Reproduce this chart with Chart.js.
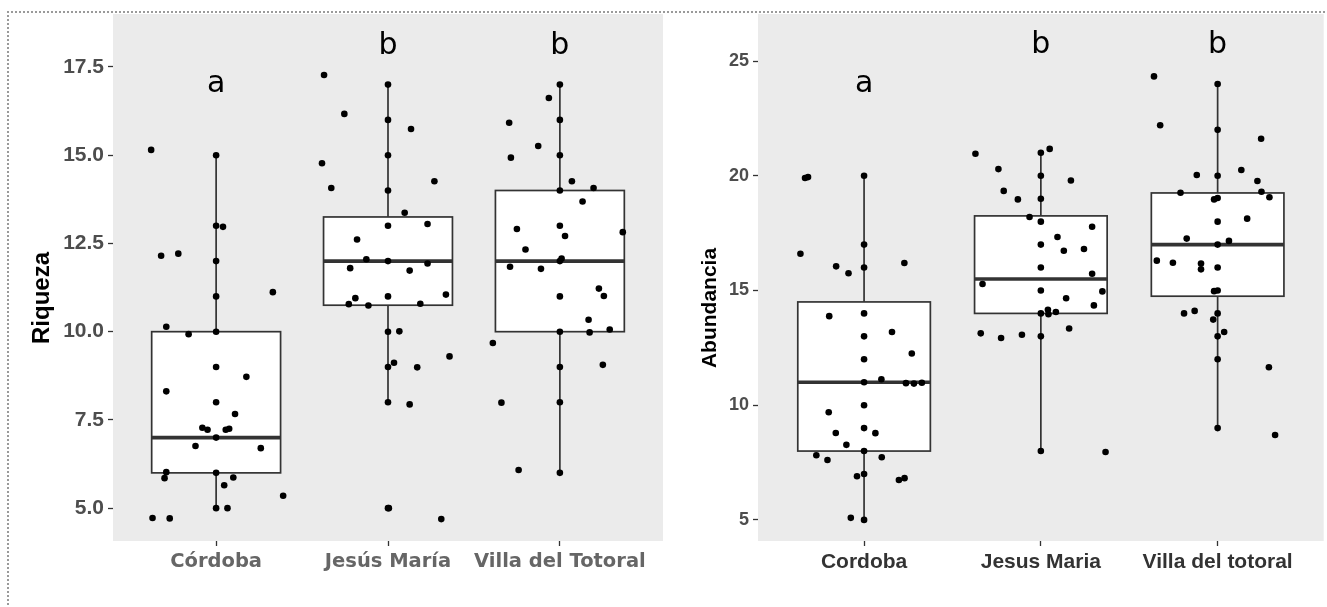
<!DOCTYPE html>
<html>
<head>
<meta charset="utf-8">
<script src="https://cdn.jsdelivr.net/npm/chart.js@4"></script>
<style>
  body { margin: 0; background: #fff; width: 1327px; height: 607px; overflow: hidden; position: relative; }
  #frame { position: absolute; left: 7px; top: 11px; width: 1400px; height: 700px;
           border-top: 2px dotted #9a9a9a; border-left: 2px dotted #9a9a9a; }
  .panel { position: absolute; top: 0; height: 607px; }
</style>
</head>
<body>
<div id="frame"></div>
<div class="panel" style="left:0;width:670px"><canvas id="riquezaChart" width="670" height="607"></canvas></div>
<div class="panel" style="left:670px;width:657px"><canvas id="abundanciaChart" width="657" height="607"></canvas></div>

<script>
// ---- Riqueza (left panel) ----
const sitiosRiqueza = ['Córdoba', 'Jesús María', 'Villa del Totoral'];
const letrasGrupo = ['a', 'b', 'b'];
const riquezaTicks = [5, 7.5, 10, 12.5, 15, 17.5];
const riquezaMin = [5, 8, 6];
const riquezaQ1 = [6, 10.75, 10];
const riquezaMediana = [7, 12, 12];
const riquezaQ3 = [10, 13.25, 14];
const riquezaMax = [15, 17, 17];
const riquezaLetraY = [17.0, 18.1, 18.1];

const riqCordobaY = [15.15, 15, 13, 12.97, 12.15, 12.21, 12, 11, 11.12, 10.14, 9.93, 10, 9, 8.72, 8.31, 8, 7.67,
  7.28, 7.22, 7.22, 7.25, 7, 6.76, 6.7, 6.02, 6, 5.85, 5.87, 5.65, 5.35, 5, 5, 4.72, 4.71];
const riqCordobaDx = [-0.378, 0, 0, 0.04, -0.32, -0.22, 0, 0, 0.33, -0.29, -0.16, 0, 0, 0.176, -0.29, 0, 0.11,
  -0.08, -0.05, 0.056, 0.076, 0, -0.12, 0.26, -0.29, 0, -0.3, 0.1, 0.047, 0.39, 0, 0.066, -0.37, -0.27];
const riqJesusY = [17.27, 17, 16.17, 16, 15.74, 14.77, 15, 14.07, 14, 14.26, 13.37, 13, 13.05, 12.61, 12.05, 12,
  11.8, 11.73, 11.93, 10.95, 11, 11.05, 10.78, 10.74, 10.79, 10, 10.01, 9.3, 9.12, 9, 8.99, 8, 7.94, 5, 5, 4.69];
const riqJesusDx = [-0.372, 0, -0.254, 0, 0.134, -0.384, 0, -0.33, 0, 0.27, 0.097, 0, 0.23, -0.18, -0.126, 0,
  -0.22, 0.126, 0.23, -0.19, 0, 0.337, -0.228, -0.114, 0.188, 0, 0.066, 0.358, 0.035, 0, 0.17, 0, 0.126, 0, 0.005, 0.31];
const riqVillaY = [17, 16.62, 15.92, 16, 15.26, 14.93, 15, 14.26, 14.07, 14, 13.69, 12.91, 13, 12.71, 12.82, 12.33,
  12.07, 12, 11.84, 11.78, 11.22, 11.01, 11, 10.34, 9.98, 10.06, 10, 9.68, 9.06, 9, 7.99, 8, 6.08, 6];
const riqVillaDx = [0, -0.064, -0.295, 0, -0.126, -0.285, 0, 0.07, 0.196, 0, 0.132, -0.25, 0, 0.03, 0.366, -0.2,
  0.01, 0, -0.29, -0.11, 0.227, 0.256, 0, 0.167, 0.173, 0.29, 0, -0.39, 0.25, 0, -0.34, 0, -0.24, 0];

// ---- Abundancia (right panel) ----
const sitiosAbundancia = ['Cordoba', 'Jesus Maria', 'Villa del totoral'];
const abundanciaTicks = [5, 10, 15, 20, 25];
const abundanciaMin = [5, 8, 9];
const abundanciaQ1 = [8, 14, 14.75];
const abundanciaMediana = [11, 15.5, 17];
const abundanciaQ3 = [14.5, 18.25, 19.25];
const abundanciaMax = [20, 21, 24];
const abundanciaLetraY = [24.0, 25.7, 25.7];

const abuCordobaY = [19.9, 19.94, 20, 16.6, 17, 16.2, 16.05, 15.75, 16, 13.88, 14, 13.19, 13, 12.25, 12, 11.13, 11,
  10.96, 10.94, 10.98, 10, 9.69, 9, 8.79, 8.78, 8.27, 8, 7.82, 7.61, 7.73, 6.9, 7, 6.74, 6.82, 5.09, 5];
const abuCordobaDx = [-0.334, -0.317, 0, -0.36, 0, 0.228, -0.158, -0.088, 0, -0.197, 0, 0.158, 0, 0.27, 0, 0.098, 0,
  0.237, 0.282, 0.327, 0, -0.2, 0, -0.16, 0.064, -0.1, 0, -0.27, -0.207, 0.1, -0.04, 0, 0.197, 0.229, -0.075, 0];
const abuJesusY = [20.96, 21, 21.17, 20.29, 20, 19.79, 19.34, 18.97, 19, 18.2, 18, 17.78, 17.33, 17, 16.73, 16.81,
  16, 15.73, 15.28, 15, 14.96, 14.66, 14.35, 14.16, 14.06, 14, 13.96, 13.13, 12.93, 13.07, 13, 13.34, 8, 7.96];
const abuJesusDx = [-0.37, 0, 0.05, -0.24, 0, 0.17, -0.21, -0.13, 0, -0.064, 0, 0.29, 0.094, 0, 0.13, 0.244,
  0, 0.29, -0.33, 0, 0.348, 0.143, 0.3, 0.04, 0.085, 0, 0.043, -0.34, -0.225, -0.107, 0, 0.16, 0, 0.366];
const abuVillaY = [24.33, 24, 22.2, 22, 21.61, 20.03, 20, 20.25, 19.77, 19.3, 19.26, 19.06, 18.97, 19.03, 18, 18.13,
  17.26, 17.16, 17, 16.3, 16.21, 16.17, 15.92, 16, 14.97, 15, 14, 14.11, 14, 13.73, 13.19, 13, 12, 11.65, 9, 8.7];
const abuVillaDx = [-0.36, 0, -0.325, 0, 0.246, -0.118, 0, 0.134, 0.225, 0.248, -0.21, 0.293, -0.02, 0, 0, 0.167,
  -0.175, 0.064, 0, -0.344, -0.253, -0.094, -0.094, 0, -0.02, 0, -0.19, -0.13, 0, -0.025, 0.037, 0, 0, 0.29, 0, 0.325];

// Box plot, panel background, group letters and the rotated axis title
const boxPlotPlugin = {
  id: 'boxPlot',
  beforeDatasetsDraw(chart, args, opts) {
    const {ctx, chartArea, scales: {x, y}} = chart;
    ctx.save();
    ctx.fillStyle = '#ebebeb';
    ctx.fillRect(chartArea.left, chartArea.top, chartArea.right - chartArea.left, chartArea.bottom - chartArea.top);
    ctx.strokeStyle = '#333333';
    opts.q1.forEach((q1, i) => {
      const cx = x.getPixelForValue(i);
      const left = x.getPixelForValue(i - 0.375);
      const right = x.getPixelForValue(i + 0.375);
      const yMin = y.getPixelForValue(opts.min[i]);
      const yQ1 = y.getPixelForValue(q1);
      const yMed = y.getPixelForValue(opts.median[i]);
      const yQ3 = y.getPixelForValue(opts.q3[i]);
      const yMax = y.getPixelForValue(opts.max[i]);
      ctx.lineWidth = 1.7;
      ctx.beginPath();
      ctx.moveTo(cx, yMin); ctx.lineTo(cx, yQ1);
      ctx.moveTo(cx, yQ3); ctx.lineTo(cx, yMax);
      ctx.stroke();
      ctx.fillStyle = '#ffffff';
      ctx.fillRect(left, yQ3, right - left, yQ1 - yQ3);
      ctx.strokeRect(left, yQ3, right - left, yQ1 - yQ3);
      ctx.lineWidth = 3.6;
      ctx.beginPath();
      ctx.moveTo(left, yMed); ctx.lineTo(right, yMed);
      ctx.stroke();
    });
    ctx.restore();
  },
  afterDatasetsDraw(chart, args, opts) {
    const {ctx, scales: {x, y}} = chart;
    ctx.save();
    ctx.fillStyle = '#000';
    ctx.font = '30px "DejaVu Sans"';
    ctx.textAlign = 'center';
    ctx.textBaseline = 'middle';
    opts.letters.forEach((l, i) => ctx.fillText(l, x.getPixelForValue(i), y.getPixelForValue(opts.letterY[i])));
    ctx.translate(opts.titleX, opts.titleY);
    ctx.rotate(-Math.PI / 2);
    ctx.font = opts.titleFont;
    ctx.fillText(opts.title, 0, 0);
    ctx.restore();
  }
};

function jitterPoints(ys, dxs, group) {
  return ys.map((v, k) => ({x: group + dxs[k], y: v}));
}

function makeChart(id, cfg) {
  const ctx = document.getElementById(id).getContext('2d');
  return new Chart(ctx, {
    type: 'scatter',
    data: {
      datasets: [{
        data: cfg.points,
        pointRadius: 3.3,
        pointBackgroundColor: '#000',
        pointBorderWidth: 0,
        pointHoverRadius: 3.3
      }]
    },
    plugins: [boxPlotPlugin],
    options: {
      responsive: false,
      animation: false,
      layout: { padding: cfg.padding },
      plugins: {
        legend: { display: false },
        tooltip: { enabled: false },
        boxPlot: cfg.box
      },
      scales: {
        x: {
          type: 'linear',
          min: -0.6,
          max: 2.6,
          afterBuildTicks: (scale) => { scale.ticks = [0, 1, 2].map(v => ({value: v})); },
          afterFit: (scale) => {
            scale.height = cfg.xHeight;
            scale.paddingLeft = 0;
            scale.paddingRight = 0;
          },
          grid: { drawOnChartArea: false, drawTicks: true, tickLength: 5, tickColor: '#333', tickWidth: 1.3 },
          border: { display: false },
          ticks: {
            autoSkip: false,
            maxRotation: 0,
            padding: 4,
            color: cfg.xColor,
            font: cfg.xFont,
            callback: (v) => cfg.labels[v]
          }
        },
        y: {
          type: 'linear',
          min: cfg.yMin,
          max: cfg.yMax,
          afterBuildTicks: (scale) => { scale.ticks = cfg.ticks.map(v => ({value: v})); },
          afterFit: (scale) => {
            scale.width = cfg.yWidth;
            scale.paddingTop = 0;
            scale.paddingBottom = 0;
          },
          grid: { drawOnChartArea: false, drawTicks: true, tickLength: 5, tickColor: '#333', tickWidth: 1.3 },
          border: { display: false },
          ticks: {
            padding: 4,
            color: cfg.yColor,
            font: cfg.yFont,
            callback: cfg.tickFormat
          }
        }
      }
    }
  });
}

window.addEventListener('load', () => {
  makeChart('riquezaChart', {
    points: [].concat(
      jitterPoints(riqCordobaY, riqCordobaDx, 0),
      jitterPoints(riqJesusY, riqJesusDx, 1),
      jitterPoints(riqVillaY, riqVillaDx, 2)),
    labels: sitiosRiqueza,
    ticks: riquezaTicks,
    tickFormat: (v) => v.toFixed(1),
    yMin: 4.07, yMax: 19.0,
    padding: { left: 0, right: 7, top: 14, bottom: 0 },
    yWidth: 113, xHeight: 66,
    yColor: '#4d4d4d', yFont: { family: 'Liberation Sans', size: 21, weight: 'bold' },
    xColor: '#666666', xFont: { family: 'DejaVu Sans', size: 19.5, weight: 'bold' },
    box: {
      min: riquezaMin, q1: riquezaQ1, median: riquezaMediana, q3: riquezaQ3, max: riquezaMax,
      letters: letrasGrupo, letterY: riquezaLetraY,
      title: 'Riqueza', titleX: 42, titleY: 298, titleFont: 'bold 24px "Liberation Sans"'
    }
  });

  makeChart('abundanciaChart', {
    points: [].concat(
      jitterPoints(abuCordobaY, abuCordobaDx, 0),
      jitterPoints(abuJesusY, abuJesusDx, 1),
      jitterPoints(abuVillaY, abuVillaDx, 2)),
    labels: sitiosAbundancia,
    ticks: abundanciaTicks,
    tickFormat: (v) => String(v),
    yMin: 4.08, yMax: 27.05,
    padding: { left: 0, right: 0, top: 14, bottom: 0 },
    yWidth: 88, xHeight: 66,
    yColor: '#4d4d4d', yFont: { family: 'Liberation Sans', size: 18, weight: 'bold' },
    xColor: '#333333', xFont: { family: 'Liberation Sans', size: 21, weight: 'bold' },
    box: {
      min: abundanciaMin, q1: abundanciaQ1, median: abundanciaMediana, q3: abundanciaQ3, max: abundanciaMax,
      letters: letrasGrupo, letterY: abundanciaLetraY,
      title: 'Abundancia', titleX: 40, titleY: 308, titleFont: 'bold 21px "Liberation Sans"'
    }
  });
});
</script>
</body>
</html>
